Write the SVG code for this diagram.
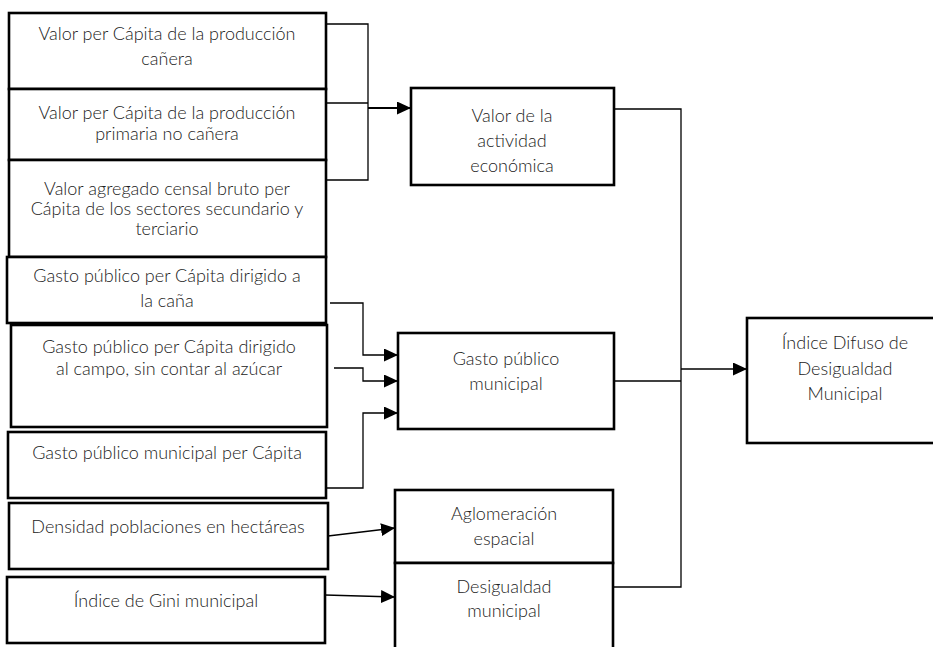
<svg xmlns="http://www.w3.org/2000/svg" width="933" height="647" viewBox="0 0 933 647">
<defs>
<style>
.box{fill:#fff;stroke:#000;stroke-width:2.6}
.t{font-family:Lato,"Open Sans","Liberation Sans",sans-serif;font-weight:300;font-size:18px;fill:#222;text-anchor:middle}
.c{fill:none;stroke:#000;stroke-width:1.3}
.ca{fill:none;stroke:#000;stroke-width:1.3;marker-end:url(#ah)}
</style>
<marker id="ah" markerUnits="userSpaceOnUse" markerWidth="15" markerHeight="13" refX="14" refY="6.5" orient="auto">
<path d="M0,0 L14,6.5 L0,13 z" fill="#000"/>
</marker>
</defs>
<rect width="933" height="647" fill="#fff"/>
<g id="connectors">
<polyline class="c" points="326,24 368,24 368,180 326,180"/>
<line class="c" x1="326" y1="103" x2="368" y2="103"/>
<line class="ca" x1="368" y1="108" x2="411" y2="108" style="stroke-width:2"/>
<polyline class="ca" points="330,303 363,303 363,355 398,355"/>
<polyline class="ca" points="334,368 363,368 363,381 398,381"/>
<polyline class="ca" points="326,488 363,488 363,413 398,413"/>
<line class="ca" x1="328" y1="536" x2="395" y2="528"/>
<line class="ca" x1="325" y1="595" x2="395" y2="597"/>
<polyline class="c" points="614,109 681,109 681,587 613,587"/>
<line class="c" x1="614" y1="381" x2="681" y2="381"/>
<line class="ca" x1="681" y1="369" x2="747" y2="369"/>
</g>
<g id="n1"><rect class="box" x="9" y="13" width="317" height="76"/>
<text class="t" x="167" y="40">Valor per Cápita de la producción</text><text class="t" x="167" y="65">cañera</text></g>
<g id="n2"><rect class="box" x="9" y="89" width="317" height="71"/>
<text class="t" x="167" y="119">Valor per Cápita de la producción</text><text class="t" x="167" y="140">primaria no cañera</text></g>
<g id="n3"><rect class="box" x="9" y="160" width="317" height="97"/>
<text class="t" x="167" y="195">Valor agregado censal bruto per</text><text class="t" x="167" y="215">Cápita de los sectores secundario y</text><text class="t" x="167" y="235">terciario</text></g>
<g id="n4"><rect class="box" x="7" y="257" width="319" height="66"/>
<text class="t" x="167" y="282">Gasto público per Cápita dirigido a</text><text class="t" x="167" y="307">la caña</text></g>
<g id="n5"><rect class="box" x="11" y="325" width="316" height="102"/>
<text class="t" x="169" y="353">Gasto público per Cápita dirigido</text><text class="t" x="169" y="375">al campo, sin contar al azúcar</text></g>
<g id="n6"><rect class="box" x="8" y="432" width="318" height="66"/>
<text class="t" x="167" y="459">Gasto público municipal per Cápita</text></g>
<g id="n7"><rect class="box" x="9" y="503" width="319" height="66"/>
<text class="t" x="168" y="533">Densidad poblaciones en hectáreas</text></g>
<g id="n8"><rect class="box" x="7" y="577" width="318" height="66"/>
<text class="t" x="166" y="607">Índice de Gini municipal</text></g>
<g id="n9"><rect class="box" x="411" y="88" width="203" height="97"/>
<text class="t" x="512" y="122">Valor de la</text><text class="t" x="512" y="147">actividad</text><text class="t" x="512" y="172">económica</text></g>
<g id="n10"><rect class="box" x="398" y="333" width="216" height="96"/>
<text class="t" x="506" y="365">Gasto público</text><text class="t" x="506" y="390">municipal</text></g>
<g id="n11"><rect class="box" x="395" y="490" width="218" height="73"/>
<text class="t" x="504" y="520">Aglomeración</text><text class="t" x="504" y="545">espacial</text></g>
<g id="n12"><rect class="box" x="395" y="563" width="218" height="100"/>
<text class="t" x="504" y="593">Desigualdad</text><text class="t" x="504" y="617">municipal</text></g>
<g id="n13"><rect class="box" x="747" y="318" width="196" height="125"/>
<text class="t" x="845" y="349">Índice Difuso de</text><text class="t" x="845" y="375">Desigualdad</text><text class="t" x="845" y="400">Municipal</text></g>
</svg>
